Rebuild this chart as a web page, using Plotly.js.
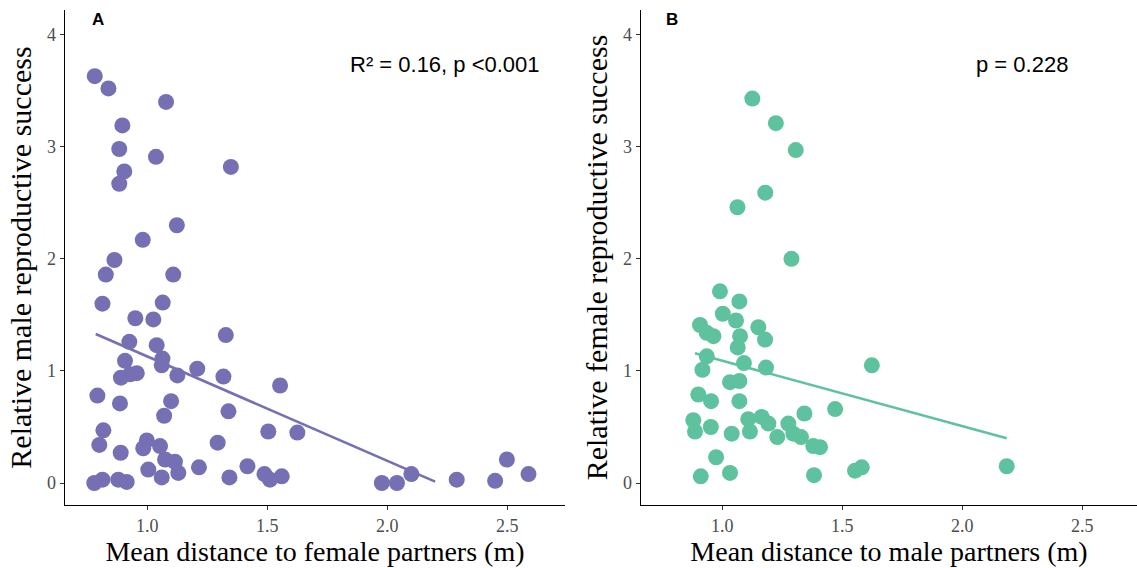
<!DOCTYPE html>
<html>
<head>
<meta charset="utf-8">
<script src="https://cdn.plot.ly/plotly-3.0.1.min.js"></script>
<style>html,body{margin:0;padding:0;background:#fff;}#chart{width:1137px;height:568px;}</style>
</head>
<body>
<div id="chart"></div>
<script>
// Panel A: mean distance to female partners vs relative male reproductive success
const maleDist = [0.781,0.838,1.078,0.896,0.883,1.036,1.348,0.904,0.883,1.123,0.981,0.863,0.827,1.108,0.813,1.064,0.950,1.025,1.327,0.925,1.039,1.063,1.060,0.907,0.890,0.956,0.928,1.125,1.208,1.317,1.553,0.792,0.886,1.099,1.070,1.338,1.625,1.504,0.817,0.800,0.889,0.998,0.983,1.053,1.293,1.074,1.115,1.129,1.004,1.060,1.215,1.417,1.342,1.488,1.511,1.560,0.779,0.813,0.879,0.914,1.977,2.040,2.100,2.289,2.449,2.498,2.588];
const maleRS   = [3.63,3.52,3.40,3.19,2.98,2.91,2.82,2.78,2.67,2.30,2.17,1.99,1.86,1.86,1.60,1.61,1.47,1.46,1.32,1.26,1.23,1.11,1.05,1.09,0.94,0.98,0.97,0.96,1.02,0.95,0.87,0.78,0.71,0.73,0.60,0.64,0.45,0.46,0.47,0.34,0.27,0.38,0.31,0.33,0.36,0.21,0.19,0.09,0.12,0.05,0.14,0.15,0.05,0.08,0.03,0.06,0.00,0.03,0.03,0.01,0.00,0.00,0.08,0.03,0.02,0.21,0.08];
const maleFitX = [0.785, 2.199];
const maleFitY = [1.33, 0.012];

// Panel B: mean distance to male partners vs relative female reproductive success
const femaleDist = [1.125,1.223,1.306,1.179,1.063,1.288,0.990,1.071,1.002,1.057,0.907,0.935,0.963,1.150,1.178,1.074,1.064,0.935,0.917,1.090,1.182,1.623,1.032,1.071,0.900,0.953,1.071,1.470,1.342,0.879,0.886,0.952,1.039,1.108,1.115,1.164,1.192,1.229,1.275,1.296,1.328,1.379,1.407,0.974,0.910,1.032,1.382,1.553,1.581,2.185];
const femaleRS   = [3.43,3.21,2.97,2.59,2.46,2.00,1.71,1.62,1.51,1.45,1.41,1.34,1.31,1.39,1.28,1.31,1.21,1.13,1.01,1.07,1.03,1.05,0.90,0.91,0.79,0.73,0.73,0.66,0.62,0.56,0.46,0.50,0.44,0.57,0.46,0.59,0.53,0.41,0.53,0.44,0.41,0.33,0.32,0.23,0.06,0.09,0.07,0.11,0.14,0.15];
const femaleFitX = [0.886, 2.185];
const femaleFitY = [1.158, 0.399];

const yTicks = [0, 1, 2, 3, 4];
const xTicks = [1.0, 1.5, 2.0, 2.5];
const xTickText = ["1.0", "1.5", "2.0", "2.5"];
const panelTags = ["A", "B"];
const statLabels = ["R\u00B2 = 0.16, p <0.001", "p = 0.228"];
const xTitles = ["Mean distance to female partners (m)", "Mean distance to male partners (m)"];
const yTitles = ["Relative male reproductive success", "Relative female reproductive success"];

const purple = "#7570B3";
const green = "#5EC29F";

const traces = [
  {x: maleDist, y: maleRS, type: "scatter", mode: "markers", xaxis: "x", yaxis: "y",
   marker: {size: 16, color: purple, line: {width: 0}}, hoverinfo: "skip"},
  {x: maleFitX, y: maleFitY, type: "scatter", mode: "lines", xaxis: "x", yaxis: "y",
   line: {color: purple, width: 2.6}, hoverinfo: "skip"},
  {x: femaleDist, y: femaleRS, type: "scatter", mode: "markers", xaxis: "x2", yaxis: "y2",
   marker: {size: 16, color: green, line: {width: 0}}, hoverinfo: "skip"},
  {x: femaleFitX, y: femaleFitY, type: "scatter", mode: "lines", xaxis: "x2", yaxis: "y2",
   line: {color: green, width: 2.6}, hoverinfo: "skip"}
];

const serif = "Liberation Serif, Times New Roman, serif";
function xAx(domain, range, title, anchor) {
  return {domain: domain, range: range, anchor: anchor, showline: true, linecolor: "#000", linewidth: 1.3,
    ticks: "outside", ticklen: 4, tickwidth: 1, tickcolor: "#333", showgrid: false, zeroline: false,
    tickvals: xTicks, ticktext: xTickText,
    tickfont: {family: serif, size: 18, color: "#4d4d4d"},
    title: {text: title, font: {family: serif, size: 28, color: "#000"}, standoff: 2}};
}
function yAx(range, title, anchor) {
  return {domain: [0, 1], range: range, anchor: anchor, showline: true, linecolor: "#000", linewidth: 1.3,
    ticks: "outside", ticklen: 4, tickwidth: 1, tickcolor: "#333", showgrid: false, zeroline: false,
    tickvals: yTicks, ticktext: yTicks.map(String),
    tickfont: {family: serif, size: 18, color: "#4d4d4d"},
    title: {text: title, font: {family: serif, size: 30, color: "#000"}, standoff: 6}};
}

const sans = "Liberation Sans, Arial, sans-serif";
const layout = {
  width: 1137, height: 568,
  margin: {l: 65, r: 0, t: 10, b: 63},
  paper_bgcolor: "#fff", plot_bgcolor: "#fff",
  showlegend: false,
  xaxis: xAx([0, 0.4664], [0.657, 2.74], xTitles[0], "y"),
  yaxis: yAx([-0.196, 4.22], yTitles[0], "x"),
  xaxis2: xAx([0.5373, 1], [0.661, 2.728], xTitles[1], "y2"),
  yaxis2: yAx([-0.196, 4.22], yTitles[1], "x2"),
  annotations: [
    {text: "<b>" + panelTags[0] + "</b>", xref: "x domain", yref: "y domain", x: 0.066, y: 0.98,
     xanchor: "center", yanchor: "middle",
     showarrow: false, font: {family: sans, size: 17, color: "#000"}},
    {text: "<b>" + panelTags[1] + "</b>", xref: "x2 domain", yref: "y2 domain", x: 0.062, y: 0.98,
     xanchor: "center", yanchor: "middle",
     showarrow: false, font: {family: sans, size: 17, color: "#000"}},
    {text: statLabels[0], xref: "x domain", yref: "y domain", x: 0.76, y: 0.889,
     xanchor: "center", yanchor: "middle",
     showarrow: false, font: {family: sans, size: 22, color: "#000"}},
    {text: statLabels[1], xref: "x2 domain", yref: "y2 domain", x: 0.768, y: 0.889,
     xanchor: "center", yanchor: "middle",
     showarrow: false, font: {family: sans, size: 22, color: "#000"}}
  ]
};

Plotly.newPlot("chart", traces, layout, {displayModeBar: false, staticPlot: true});
</script>
</body>
</html>
